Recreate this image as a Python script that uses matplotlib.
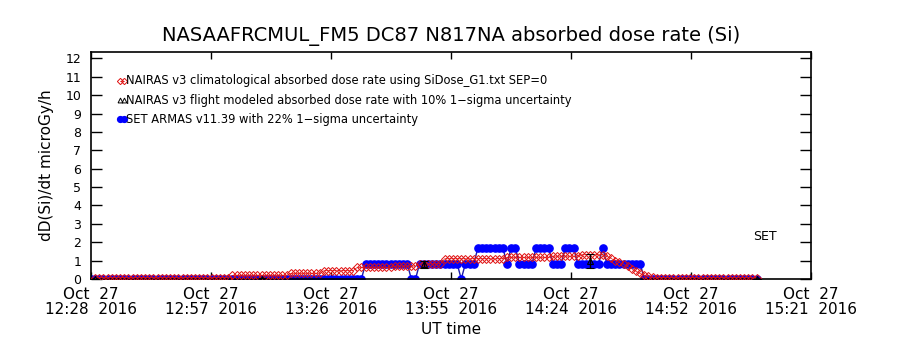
import numpy as np
import matplotlib
matplotlib.use("Agg")
import matplotlib.pyplot as plt

# Time axis in minutes after 12:28 UT, Oct 27 2016
t_start, t_end = 0.0, 173.0
tick_labels = [
    "Oct  27\n12:28  2016",
    "Oct  27\n12:57  2016",
    "Oct  27\n13:26  2016",
    "Oct  27\n13:55  2016",
    "Oct  27\n14:24  2016",
    "Oct  27\n14:52  2016",
    "Oct  27\n15:21  2016",
]

# NAIRAS v3 climatological dose rate, one sample per minute (minutes 1..160)
clim_minutes = np.arange(1, 161)
clim_rate = [
    0.07, 0.07, 0.07, 0.07, 0.07, 0.07, 0.07, 0.07, 0.07, 0.07,
    0.07, 0.07, 0.07, 0.07, 0.07, 0.07, 0.07, 0.07, 0.07, 0.07,
    0.07, 0.07, 0.07, 0.07, 0.07, 0.07, 0.07, 0.07, 0.07, 0.07,
    0.07, 0.07, 0.07, 0.19, 0.19, 0.19, 0.19, 0.19, 0.19, 0.19,
    0.19, 0.19, 0.19, 0.19, 0.19, 0.19, 0.19, 0.30, 0.30, 0.30,
    0.30, 0.30, 0.30, 0.30, 0.30, 0.45, 0.45, 0.45, 0.45, 0.45,
    0.45, 0.45, 0.45, 0.63, 0.63, 0.63, 0.63, 0.63, 0.63, 0.63,
    0.63, 0.63, 0.70, 0.70, 0.70, 0.70, 0.70, 0.70, 0.82, 0.82,
    0.82, 0.82, 0.82, 0.82, 1.10, 1.10, 1.10, 1.10, 1.10, 1.10,
    1.10, 1.10, 1.10, 1.10, 1.10, 1.10, 1.10, 1.10, 1.10, 1.17,
    1.17, 1.17, 1.17, 1.17, 1.17, 1.17, 1.17, 1.17, 1.17, 1.17,
    1.24, 1.24, 1.24, 1.24, 1.24, 1.24, 1.24, 1.32, 1.32, 1.32,
    1.32, 1.32, 1.32, 1.25, 1.12, 1.00, 0.90, 0.80, 0.68, 0.55,
    0.42, 0.30, 0.20, 0.14, 0.10, 0.07, 0.07, 0.07, 0.07, 0.07,
    0.07, 0.07, 0.07, 0.07, 0.07, 0.07, 0.07, 0.07, 0.07, 0.07,
    0.07, 0.07, 0.07, 0.07, 0.07, 0.07, 0.07, 0.07, 0.07, 0.07,
]

# SET ARMAS measured dose rate, one sample per minute (minutes 0..160)
set_minutes = np.arange(0, 161)
set_rate = [
    0, 0, 0, 0, 0, 0, 0, 0, 0, 0,
    0, 0, 0, 0, 0, 0, 0, 0, 0, 0,
    0, 0, 0, 0, 0, 0, 0, 0, 0, 0,
    0, 0, 0, 0, 0, 0, 0, 0, 0, 0,
    0, 0, 0, 0, 0, 0, 0, 0, 0, 0,
    0, 0, 0, 0, 0, 0, 0, 0, 0, 0,
    0, 0, 0, 0, 0, 0, 0.84, 0.84, 0.84, 0.84,
    0.84, 0.84, 0.84, 0.84, 0.84, 0.84, 0.84, 0, 0, 0.84,
    0.84, 0.84, 0.84, 0.84, 0.84, 0.84, 0.84, 0.84, 0.84, 0,
    0.84, 0.84, 0.84, 1.68, 1.68, 1.68, 1.68, 1.68, 1.68, 1.68,
    0.84, 1.68, 1.68, 0.84, 0.84, 0.84, 0.84, 1.68, 1.68, 1.68,
    1.68, 0.84, 0.84, 0.84, 1.68, 1.68, 1.68, 0.84, 0.84, 0.84,
    0.84, 0.84, 0.84, 1.68, 0.84, 0.84, 0.84, 0.84, 0.84, 0.84,
    0.84, 0.84, 0.84, 0, 0, 0, 0, 0, 0, 0,
    0, 0, 0, 0, 0, 0, 0, 0, 0, 0,
    0, 0, 0, 0, 0, 0, 0, 0, 0, 0,
    0,
]

# NAIRAS v3 flight modeled points with their uncertainty
model_minutes = [1, 41, 80, 120, 160]
model_rate = [0.0, 0.0, 0.79, 0.99, 0.0]
model_err = [0.0, 0.08, 0.19, 0.38, 0.0]

legend_labels = [
    "NAIRAS v3 climatological absorbed dose rate using SiDose_G1.txt SEP=0",
    "NAIRAS v3 flight modeled absorbed dose rate with 10% 1\u2212sigma uncertainty",
    "SET ARMAS v11.39 with 22% 1\u2212sigma uncertainty",
]

plt.rcParams["font.family"] = ["DejaVu Sans"]

fig = plt.figure(figsize=(9, 3.5), dpi=100)
ax = fig.add_axes([0.1011, 0.2029, 0.7997, 0.6485])

red = "#e01010"
blue = "#0000ff"

ax.plot(set_minutes, set_rate, color="#1a1aa8", lw=1.0, marker="o",
        ms=5.2, mfc=blue, mec=blue, zorder=2)
ax.plot(clim_minutes, clim_rate, color=red, lw=0.5, marker="D", ms=3.6,
        mfc="none", mec=red, mew=0.7, zorder=3)
ax.errorbar(model_minutes, model_rate, yerr=model_err, fmt="^", color="black",
            ms=4, mfc="none", mew=0.8, elinewidth=1.0, capsize=3, zorder=4)

ax.set_xlim(t_start, t_end)
ax.set_ylim(0.0, 12.35)
ax.set_xticks(np.linspace(t_start, t_end, len(tick_labels)))
ax.set_xticklabels(tick_labels, fontsize=11, linespacing=0.95)
ax.set_yticks(range(0, 13))
ax.tick_params(axis="y", labelsize=9, direction="in", length=8, width=1, pad=7,
               right=True, labelright=False)
ax.tick_params(axis="x", direction="in", length=5, width=1, pad=6, top=True)
for s in ax.spines.values():
    s.set_linewidth(1.2)

ax.set_title("NASAAFRCMUL_FM5 DC87 N817NA absorbed dose rate (Si)",
             fontsize=14, pad=8)
ax.set_ylabel("dD(Si)/dt microGy/h", fontsize=11, labelpad=8)
ax.set_xlabel("UT time", fontsize=11, labelpad=4)

# legend drawn as marker pairs followed by text
leg_y = [0.8736, 0.7885, 0.7048]
leg_styles = [
    dict(marker="D", ms=3.2, mfc="none", mec=red, mew=0.7, color=red, lw=0.5),
    dict(marker="^", ms=3.5, mfc="none", mec="black", mew=0.7, color="black", lw=0),
    dict(marker="o", ms=4.2, mfc=blue, mec=blue, color=blue, lw=1),
]
for y, lab, st in zip(leg_y, legend_labels, leg_styles):
    ax.plot([0.0403, 0.0458], [y, y], transform=ax.transAxes, clip_on=False, **st)
    ax.text(0.0486, y, lab, transform=ax.transAxes, fontsize=8.3, va="center",
            ha="left")

ax.text(0.9365, 0.185, "SET", transform=ax.transAxes, fontsize=9,
        ha="center", va="center")

fig.savefig("out.png", dpi=100)
